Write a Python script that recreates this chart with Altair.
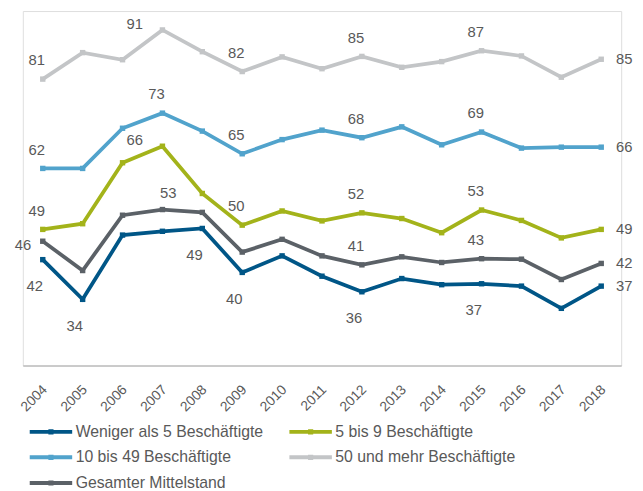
import altair as alt
import pandas as pd

years = [str(y) for y in range(2004, 2019)]

series_names = [
    "Weniger als 5 Beschäftigte",
    "5 bis 9 Beschäftigte",
    "10 bis 49 Beschäftigte",
    "50 und mehr Beschäftigte",
    "Gesamter Mittelstand",
]
series_colors = ["#005687", "#a3b31a", "#51a3cc", "#c3c5c7", "#5b6167"]

weniger5 = [42.4, 34.0, 47.6, 48.4, 49.0, 39.7, 43.2, 38.9, 35.6, 38.4, 37.1, 37.3, 36.8, 32.1, 36.8]
bis9 = [48.8, 50.0, 62.9, 66.4, 56.4, 49.7, 52.7, 50.6, 52.3, 51.1, 48.1, 52.9, 50.7, 47.0, 48.8]
bis49 = [61.7, 61.7, 70.2, 73.4, 69.6, 64.8, 67.8, 69.8, 68.2, 70.5, 66.7, 69.4, 66.0, 66.2, 66.2]
mehr50 = [80.6, 86.2, 84.7, 91.0, 86.4, 82.2, 85.3, 82.8, 85.4, 83.1, 84.3, 86.6, 85.5, 81.0, 84.8]
gesamt = [46.3, 40.1, 51.8, 53.0, 52.4, 44.0, 46.7, 43.2, 41.3, 43.0, 41.8, 42.6, 42.5, 38.2, 41.6]

series_values = [weniger5, bis9, bis49, mehr50, gesamt]

# which points carry a value label, and on which side of the point
label_points = {
    "Weniger als 5 Beschäftigte": [("2004", "unten"), ("2005", "unten"), ("2008", "unten"),
                                   ("2009", "unten"), ("2012", "unten"), ("2015", "unten"),
                                   ("2018", "rechts")],
    "5 bis 9 Beschäftigte": [("2004", "oben"), ("2007", "obenlinks"), ("2009", "oben"),
                             ("2012", "oben"), ("2015", "oben"), ("2018", "rechts")],
    "10 bis 49 Beschäftigte": [("2004", "oben"), ("2007", "oben"), ("2009", "oben"),
                               ("2012", "oben"), ("2015", "oben"), ("2018", "rechts")],
    "50 und mehr Beschäftigte": [("2004", "oben"), ("2007", "obenlinks"), ("2009", "oben"),
                                 ("2012", "oben"), ("2015", "oben"), ("2018", "rechts")],
    "Gesamter Mittelstand": [("2004", "links"), ("2007", "obenrechts"), ("2012", "oben"),
                             ("2015", "oben"), ("2018", "rechts")],
}

rows = []
for name, vals in zip(series_names, series_values):
    for y, v in zip(years, vals):
        rows.append({"Jahr": y, "Reihe": name, "Wert": v})
df = pd.DataFrame(rows)

lab_rows = []
for name, vals in zip(series_names, series_values):
    lookup = dict(zip(years, vals))
    for y, pos in label_points[name]:
        lab_rows.append({"Jahr": y, "Reihe": name, "Wert": lookup[y],
                         "Text": str(int(round(lookup[y]))), "pos": pos})
labels = pd.DataFrame(lab_rows)

TEXT = "#595959"
FONT = "Liberation Sans"

x_enc = alt.X("Jahr:O", scale=alt.Scale(type="point", padding=0.5),
              sort=years,
              axis=alt.Axis(title=None, labelAngle=-45, labelFontSize=14,
                            labelColor=TEXT, labelFont=FONT, ticks=False,
                            domainColor="#a6a6a6", domainWidth=1, labelPadding=17,
                            labelOffset=-3, grid=False))
y_enc = alt.Y("Wert:Q", scale=alt.Scale(domain=[20, 95], nice=False, zero=False), axis=None)
color_enc = alt.Color("Reihe:N", sort=series_names,
                      scale=alt.Scale(domain=series_names, range=series_colors),
                      legend=alt.Legend(
                          title=None, orient="none", legendX=20.5, legendY=418,
                          direction="horizontal",
                          columns=2, columnPadding=17, rowPadding=8,
                          symbolType="M-4.3,0H4.3M-0.12,-0.12H0.12V0.12H-0.12Z",
                          symbolSize=100, symbolStrokeWidth=4,
                          labelFontSize=16, labelColor=TEXT, labelFont=FONT,
                          labelLimit=400,
                          labelOffset=17, padding=0, symbolOpacity=1))

base = alt.Chart(df)
lines = base.mark_line(strokeWidth=3.8).encode(x=x_enc, y=y_enc, color=color_enc)
points = base.mark_point(shape="square", filled=True, size=30, opacity=1).encode(
    x=x_enc, y=y_enc, color=alt.Color("Reihe:N", sort=series_names,
                                      scale=alt.Scale(domain=series_names, range=series_colors),
                                      legend=None))

offsets = {
    "oben": dict(dx=-6, dy=-19, align="center"),
    "unten": dict(dx=-8, dy=27, align="center"),
    "links": dict(dx=-20, dy=4, align="center"),
    "rechts": dict(dx=15, dy=0, align="left"),
    "obenlinks": dict(dx=-28, dy=-6, align="center"),
    "obenrechts": dict(dx=6, dy=-17, align="center"),
}

text_layers = []
for pos, o in offsets.items():
    t = alt.Chart(labels).transform_filter(alt.datum.pos == pos).mark_text(
        font=FONT, fontSize=15, color=TEXT, baseline="middle", **o
    ).encode(x=x_enc, y=y_enc, text="Text:N")
    text_layers.append(t)

chart = alt.layer(lines, points, *text_layers).properties(
    width=606, height=359,
    autosize=alt.AutoSizeParams(type="none"),
    padding={"left": 15, "top": 0, "right": 14, "bottom": 124},
).configure_view(stroke=None).configure(background="white")

chart.save("out.html", embed_options={"renderer": "svg", "actions": False})
